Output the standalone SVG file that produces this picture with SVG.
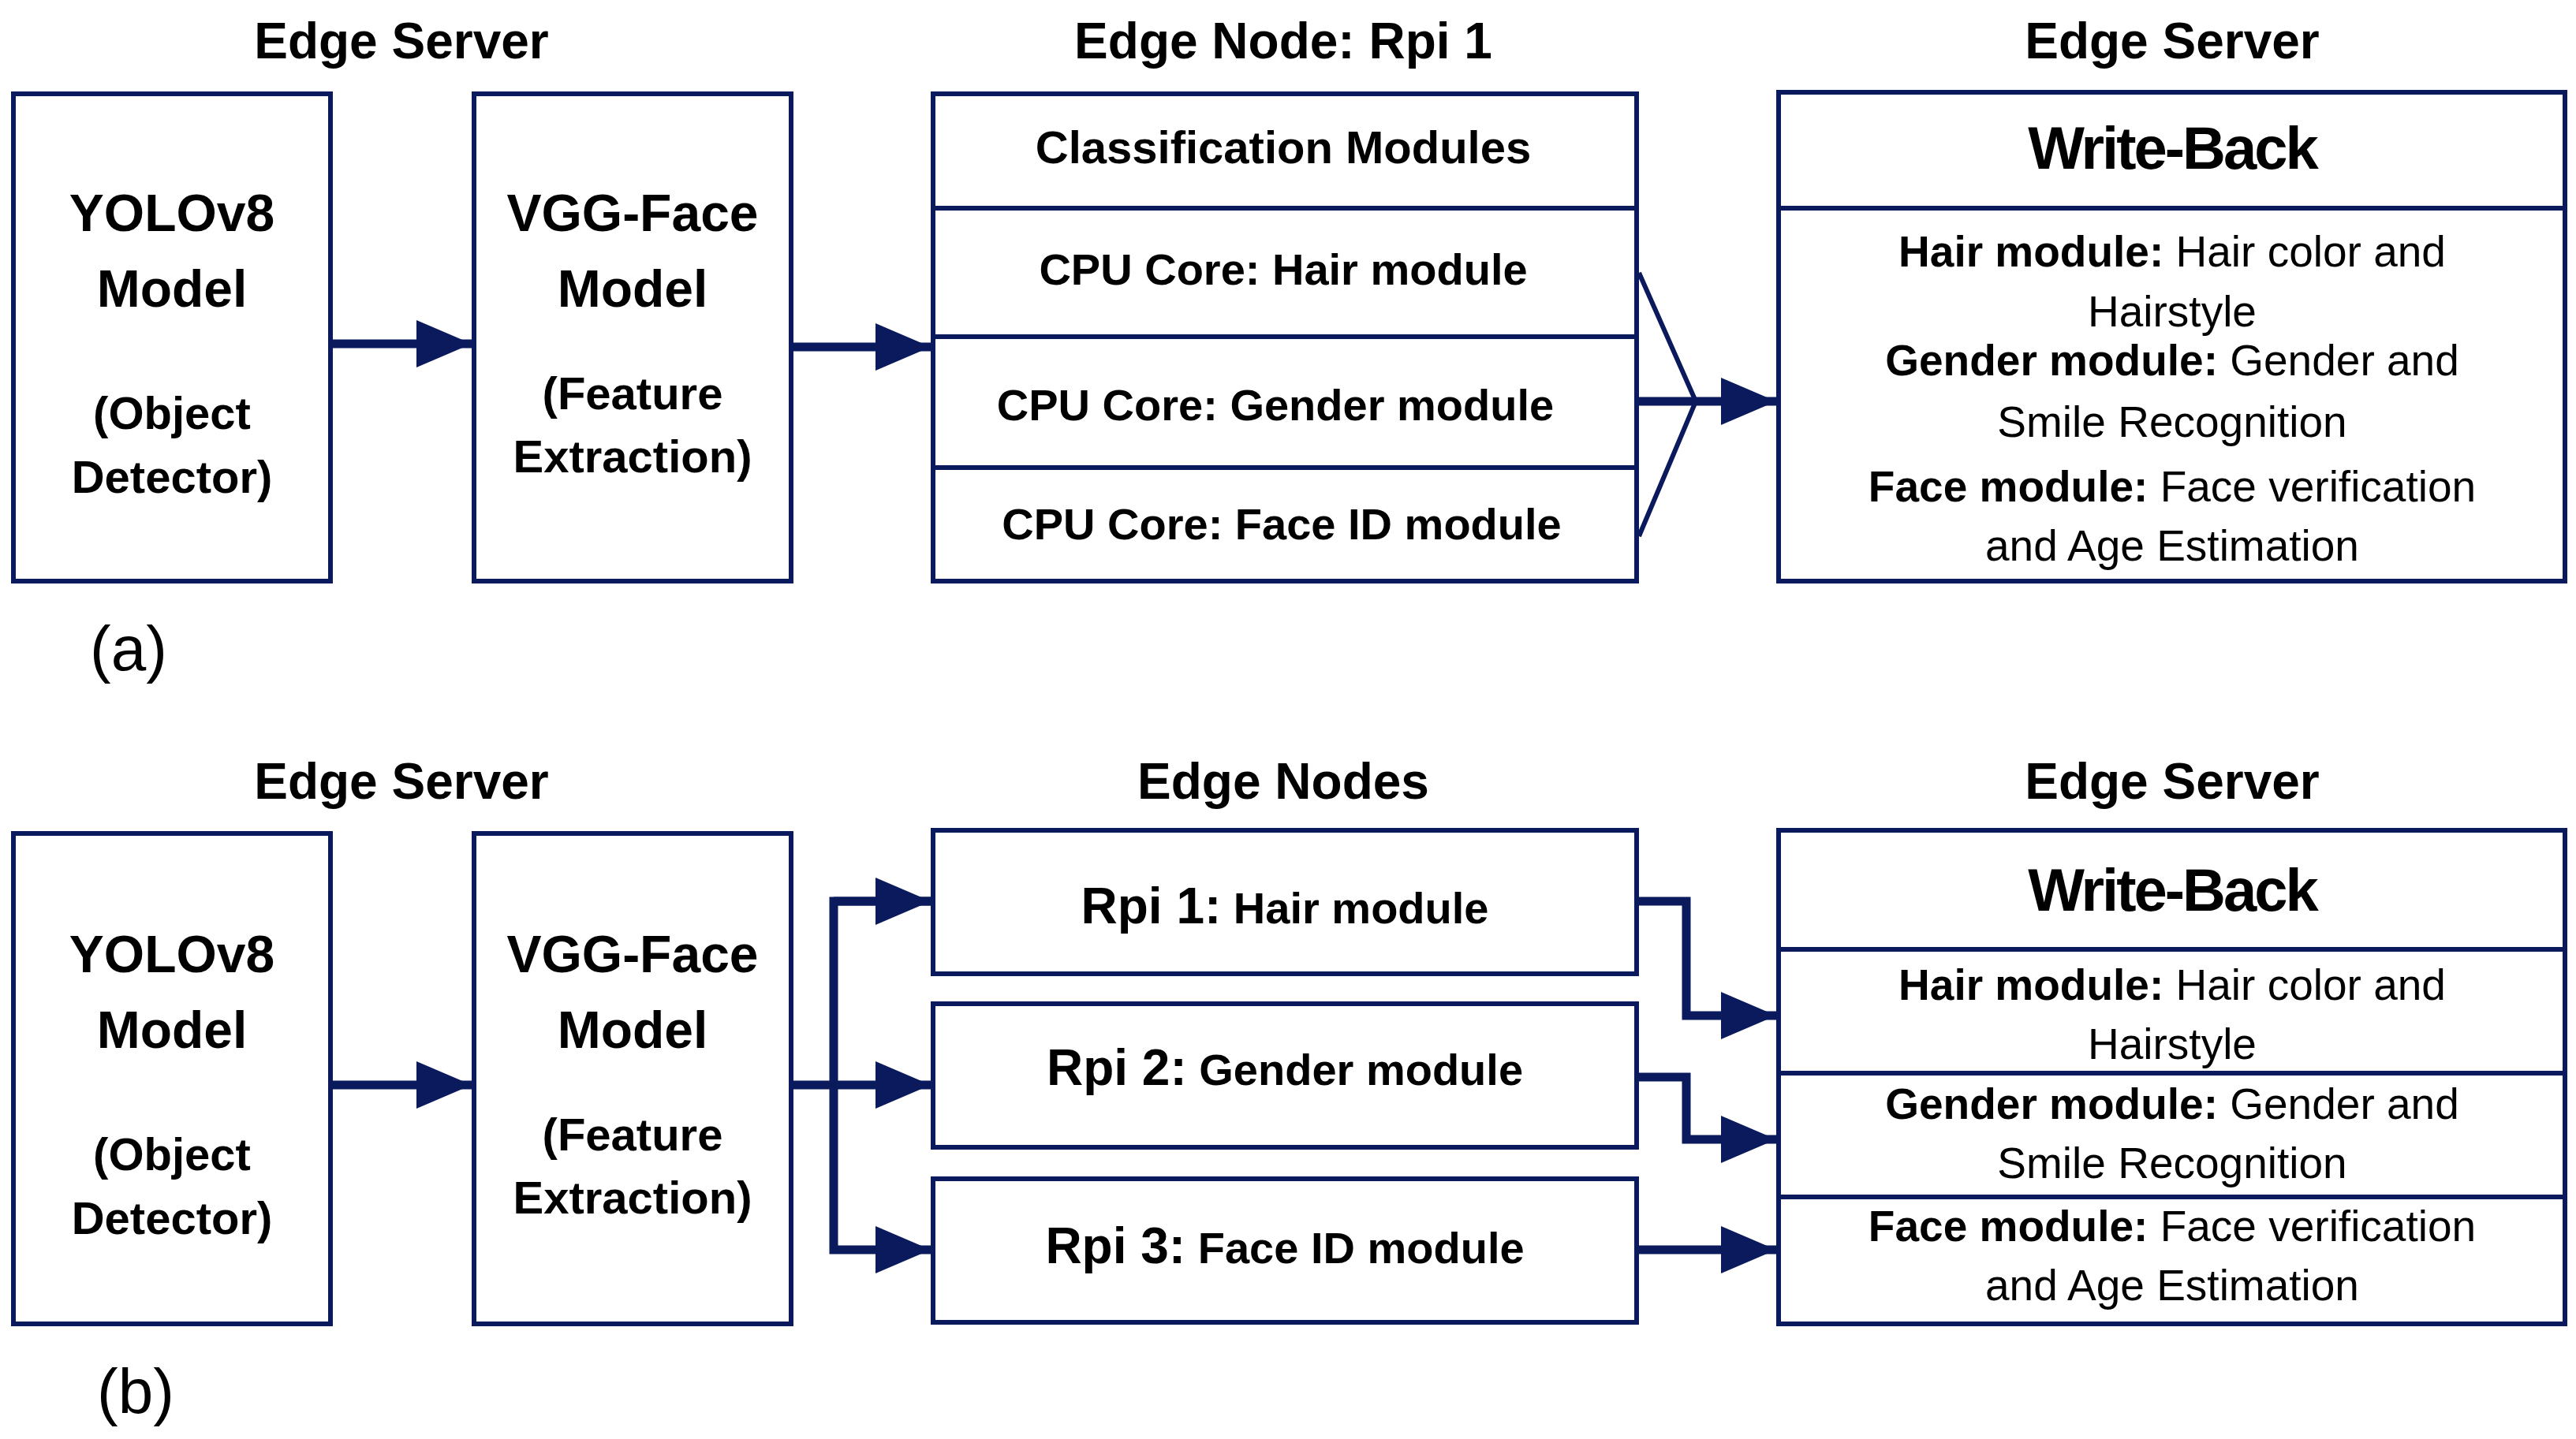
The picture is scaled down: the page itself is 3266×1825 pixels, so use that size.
<svg xmlns="http://www.w3.org/2000/svg" width="3266" height="1825" viewBox="0 0 3266 1825">
<style>
text{font-family:"Liberation Sans",Arial,sans-serif;fill:#000;text-anchor:middle}
.t{font-size:64px;font-weight:bold}
.big{font-size:66px;font-weight:bold}
.mid{font-size:58px;font-weight:bold}
.cpu{font-size:56px;font-weight:bold}
.wb{font-size:76px;font-weight:bold;letter-spacing:-3px}
.d{font-size:55px}
.d tspan.b{font-weight:bold}
.lab{font-size:80px}
.box{fill:#fff;stroke:#0a1a5c;stroke-width:6}
.div{stroke:#0a1a5c;stroke-width:6}
.c{fill:none;stroke:#0a1a5c;stroke-width:11}
.thin{fill:none;stroke:#0a1a5c;stroke-width:6}
</style>
<defs>
<marker id="ah" markerUnits="userSpaceOnUse" markerWidth="70" markerHeight="60" refX="70" refY="30" orient="auto"><path d="M0,0 L70,30 L0,60 Z" fill="#0a1a5c"/></marker>
</defs>
<g id="titles">
<text class="t" x="509" y="74">Edge Server</text>
<text class="t" x="1627" y="74">Edge Node: Rpi 1</text>
<text class="t" x="2754" y="74">Edge Server</text>
<text class="lab" x="163" y="850">(a)</text>
<text class="t" x="509" y="1013">Edge Server</text>
<text class="t" x="1627" y="1013">Edge Nodes</text>
<text class="t" x="2754" y="1013">Edge Server</text>
<text class="lab" x="172" y="1792">(b)</text>
</g>
<g id="yolo-a">
<rect class="box" x="17" y="119" width="402" height="618"/>
<text class="big" x="218" y="293">YOLOv8</text>
<text class="big" x="218" y="389">Model</text>
<text class="mid" x="218" y="544">(Object</text>
<text class="mid" x="218" y="625">Detector)</text>
</g>
<g id="vgg-a">
<rect class="box" x="601" y="119" width="402" height="618"/>
<text class="big" x="802" y="293">VGG-Face</text>
<text class="big" x="802" y="389">Model</text>
<text class="mid" x="802" y="519">(Feature</text>
<text class="mid" x="802" y="599">Extraction)</text>
</g>
<g id="class-a">
<rect class="box" x="1183" y="119" width="892" height="618"/>
<line class="div" x1="1183" y1="264" x2="2075" y2="264"/>
<line class="div" x1="1183" y1="427" x2="2075" y2="427"/>
<line class="div" x1="1183" y1="593" x2="2075" y2="593"/>
<text class="mid" x="1627" y="207">Classification Modules</text>
<text class="cpu" x="1627" y="361">CPU Core: Hair module</text>
<text class="cpu" x="1617" y="533">CPU Core: Gender module</text>
<text class="cpu" x="1625" y="684">CPU Core: Face ID module</text>
</g>
<g id="wb-a">
<rect class="box" x="2255" y="117" width="997" height="620"/>
<line class="div" x1="2255" y1="264" x2="3252" y2="264"/>
<text class="wb" x="2754" y="214">Write-Back</text>
<text class="d" x="2754" y="338"><tspan class="b">Hair module:</tspan> Hair color and</text>
<text class="d" x="2754" y="414">Hairstyle</text>
<text class="d" x="2754" y="476"><tspan class="b">Gender module:</tspan> Gender and</text>
<text class="d" x="2754" y="554">Smile Recognition</text>
<text class="d" x="2754" y="636"><tspan class="b">Face module:</tspan> Face verification</text>
<text class="d" x="2754" y="711">and Age Estimation</text>
</g>
<g id="yolo-b">
<rect class="box" x="17" y="1057" width="402" height="622"/>
<text class="big" x="218" y="1233">YOLOv8</text>
<text class="big" x="218" y="1329">Model</text>
<text class="mid" x="218" y="1484">(Object</text>
<text class="mid" x="218" y="1565">Detector)</text>
</g>
<g id="vgg-b">
<rect class="box" x="601" y="1057" width="402" height="622"/>
<text class="big" x="802" y="1233">VGG-Face</text>
<text class="big" x="802" y="1329">Model</text>
<text class="mid" x="802" y="1459">(Feature</text>
<text class="mid" x="802" y="1539">Extraction)</text>
</g>
<g id="rpi1">
<rect class="box" x="1183" y="1053" width="892" height="182"/>
<text class="cpu" x="1629" y="1171"><tspan font-size="64">Rpi 1:</tspan> Hair module</text>
</g>
<g id="rpi2">
<rect class="box" x="1183" y="1273" width="892" height="182"/>
<text class="cpu" x="1629" y="1376"><tspan font-size="64">Rpi 2:</tspan> Gender module</text>
</g>
<g id="rpi3">
<rect class="box" x="1183" y="1495" width="892" height="182"/>
<text class="cpu" x="1629" y="1602"><tspan font-size="64">Rpi 3:</tspan> Face ID module</text>
</g>
<g id="wb-b">
<rect class="box" x="2255" y="1053" width="997" height="626"/>
<line class="div" x1="2255" y1="1204" x2="3252" y2="1204"/>
<line class="div" x1="2255" y1="1361" x2="3252" y2="1361"/>
<line class="div" x1="2255" y1="1518" x2="3252" y2="1518"/>
<text class="wb" x="2754" y="1155">Write-Back</text>
<text class="d" x="2754" y="1268"><tspan class="b">Hair module:</tspan> Hair color and</text>
<text class="d" x="2754" y="1343">Hairstyle</text>
<text class="d" x="2754" y="1419"><tspan class="b">Gender module:</tspan> Gender and</text>
<text class="d" x="2754" y="1494">Smile Recognition</text>
<text class="d" x="2754" y="1574"><tspan class="b">Face module:</tspan> Face verification</text>
<text class="d" x="2754" y="1649">and Age Estimation</text>
</g>
<g id="connectors">
<line class="c" x1="422" y1="436" x2="598" y2="436" marker-end="url(#ah)"/>
<line class="c" x1="1006" y1="440" x2="1180" y2="440" marker-end="url(#ah)"/>
<polyline class="thin" points="2078,346 2150,509 2078,680"/>
<line class="c" x1="2078" y1="509" x2="2252" y2="509" marker-end="url(#ah)"/>
<line class="c" x1="422" y1="1376" x2="598" y2="1376" marker-end="url(#ah)"/>
<line class="c" x1="1006" y1="1376" x2="1180" y2="1376" marker-end="url(#ah)"/>
<polyline class="c" points="1180,1143 1057,1143 1057,1585 1180,1585" marker-end="url(#ah)"/>
<line class="c" x1="1057" y1="1143" x2="1180" y2="1143" marker-end="url(#ah)"/>
<polyline class="c" points="2078,1143 2138,1143 2138,1288 2252,1288" marker-end="url(#ah)"/>
<polyline class="c" points="2078,1366 2138,1366 2138,1445 2252,1445" marker-end="url(#ah)"/>
<line class="c" x1="2078" y1="1585" x2="2252" y2="1585" marker-end="url(#ah)"/>
</g>
</svg>
